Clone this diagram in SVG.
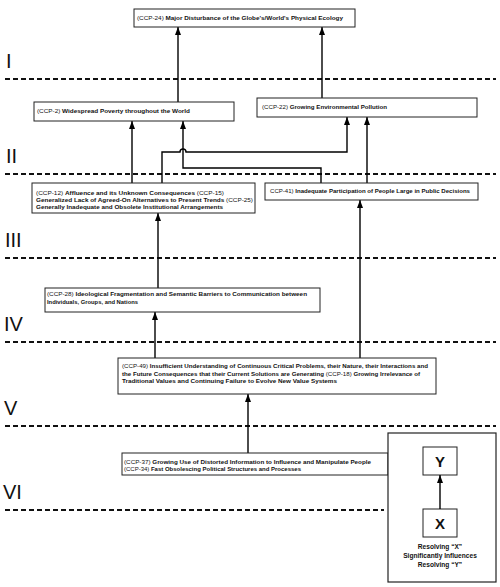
<svg xmlns="http://www.w3.org/2000/svg" width="500" height="587" viewBox="0 0 500 587">
<defs>
<marker id="ah" markerWidth="8" markerHeight="6" refX="8" refY="3" orient="auto" markerUnits="userSpaceOnUse" viewBox="0 0 8 6">
<path d="M0,0 L8,3 L0,6 Z" fill="#000"/>
</marker>
</defs>
<style>
.box{fill:#fff;stroke:#222;stroke-width:1}
.t{font-family:"Liberation Sans",Arial,sans-serif;font-size:6px;fill:#111;font-weight:bold}
.r{font-weight:normal}
.c{fill:none;stroke:#000;stroke-width:1.4}
.dash{stroke:#111;stroke-width:2;stroke-dasharray:5 3}
.num{font-family:"Liberation Sans",Arial,sans-serif;font-size:20px;fill:#111}
.big{font-family:"Liberation Sans",Arial,sans-serif;font-size:15px;font-weight:bold;fill:#111;text-anchor:middle}
.lt{font-family:"Liberation Sans",Arial,sans-serif;font-size:6.6px;font-weight:bold;fill:#111;text-anchor:middle}
</style>
<rect width="500" height="587" fill="#fff"/>
<g id="levels">
<text class="num" x="6" y="68">I</text>
<line class="dash" x1="5" y1="79" x2="496" y2="79"/>
<text class="num" x="6" y="163">II</text>
<line class="dash" x1="5" y1="174" x2="496" y2="174"/>
<text class="num" x="5" y="247">III</text>
<line class="dash" x1="5" y1="258" x2="496" y2="258"/>
<text class="num" x="4" y="331">IV</text>
<line class="dash" x1="5" y1="342" x2="496" y2="342"/>
<text class="num" x="4" y="415">V</text>
<line class="dash" x1="5" y1="426" x2="496" y2="426"/>
<text class="num" x="3" y="499">VI</text>
<line class="dash" x1="5" y1="510" x2="384" y2="510"/>
</g>
<g id="connectors">
<line class="c" x1="178" y1="102" x2="178" y2="27" marker-end="url(#ah)"/>
<line class="c" x1="322" y1="98" x2="322" y2="27" marker-end="url(#ah)"/>
<line class="c" x1="132" y1="183" x2="132" y2="121" marker-end="url(#ah)"/>
<path class="c" d="M162,183 V152 H180 A3,3 0 0 1 186,152 H347 V117" marker-end="url(#ah)"/>
<path class="c" d="M321,183 V168 H183 V121" marker-end="url(#ah)"/>
<line class="c" x1="367" y1="183" x2="367" y2="117" marker-end="url(#ah)"/>
<line class="c" x1="158" y1="288" x2="158" y2="213" marker-end="url(#ah)"/>
<line class="c" x1="155" y1="358" x2="155" y2="312" marker-end="url(#ah)"/>
<line class="c" x1="360" y1="358" x2="360" y2="200" marker-end="url(#ah)"/>
<line class="c" x1="248" y1="453" x2="248" y2="394" marker-end="url(#ah)"/>
</g>
<g id="ccp24">
<rect class="box" x="134" y="9" width="221" height="18"/>
<text class="t" x="137" y="20" textLength="206" lengthAdjust="spacingAndGlyphs"><tspan class="r">(CCP-24) </tspan>Major Disturbance of the Globe's/World's Physical Ecology</text>
</g>
<g id="ccp2">
<rect class="box" x="34" y="102" width="200" height="19"/>
<text class="t" x="37" y="112.5" textLength="153" lengthAdjust="spacingAndGlyphs"><tspan class="r">(CCP-2) </tspan>Widespread Poverty throughout the World</text>
</g>
<g id="ccp22">
<rect class="box" x="257" y="98" width="220" height="19"/>
<text class="t" x="262" y="109" textLength="125" lengthAdjust="spacingAndGlyphs"><tspan class="r">(CCP-22) </tspan>Growing Environmental Pollution</text>
</g>
<g id="ccp12">
<rect class="box" x="32" y="183" width="223" height="30"/>
<text class="t" x="36" y="194.5" textLength="188" lengthAdjust="spacingAndGlyphs"><tspan class="r">(CCP-12) </tspan>Affluence and its Unknown Consequences  <tspan class="r">(CCP-15)</tspan></text>
<text class="t" x="36" y="201.5" textLength="217" lengthAdjust="spacingAndGlyphs">Generalized Lack of Agreed-On Alternatives to Present Trends  <tspan class="r">(CCP-25)</tspan></text>
<text class="t" x="36" y="208.5" textLength="187" lengthAdjust="spacingAndGlyphs">Generally Inadequate and Obsolete Institutional Arrangements</text>
</g>
<g id="ccp41">
<rect class="box" x="265" y="183" width="213" height="17"/>
<text class="t" x="270" y="193" textLength="200" lengthAdjust="spacingAndGlyphs"><tspan class="r">CCP-41) </tspan>Inadequate Participation of People Large in Public Decisions</text>
</g>
<g id="ccp28">
<rect class="box" x="45" y="288" width="275" height="24"/>
<text class="t" x="47" y="295.5" textLength="260" lengthAdjust="spacingAndGlyphs"><tspan class="r">(CCP-28) </tspan>Ideological Fragmentation and Semantic Barriers to Communication between</text>
<text class="t" x="47" y="304" textLength="91" lengthAdjust="spacingAndGlyphs">Individuals, Groups, and Nations</text>
</g>
<g id="ccp49">
<rect class="box" x="118" y="358" width="318" height="36"/>
<text class="t" x="122" y="368" textLength="306" lengthAdjust="spacingAndGlyphs"><tspan class="r">(CCP-49) </tspan>Insufficient Understanding of Continuous Critical Problems, their Nature, their Interactions and</text>
<text class="t" x="122" y="375.5" textLength="298" lengthAdjust="spacingAndGlyphs">the Future Consequences that their Current Solutions are Generating  <tspan class="r">(CCP-18) </tspan>Growing Irrelevance of</text>
<text class="t" x="122" y="383" textLength="215" lengthAdjust="spacingAndGlyphs">Traditional Values and Continuing Failure to Evolve New Value Systems</text>
</g>
<g id="ccp37">
<rect class="box" x="122" y="453" width="266" height="22"/>
<text class="t" x="124" y="463.5" textLength="247" lengthAdjust="spacingAndGlyphs"><tspan class="r">(CCP-37) </tspan>Growing Use of Distorted Information to Influence and Manipulate People</text>
<text class="t" x="124" y="470.5" textLength="177" lengthAdjust="spacingAndGlyphs"><tspan class="r">(CCP-34)  </tspan>Fast Obsolescing Political Structures and Processes</text>
</g>
<g id="legend">
<rect class="box" x="388" y="433" width="108" height="149" style="stroke-width:1.2"/>
<rect class="box" x="423" y="447" width="34" height="28"/>
<text class="big" x="440" y="467">Y</text>
<rect class="box" x="423" y="509" width="34" height="28"/>
<text class="big" x="440" y="529">X</text>
<line class="c" x1="440" y1="509" x2="440" y2="475" marker-end="url(#ah)"/>
<text class="lt" x="440" y="549">Resolving “X”</text>
<text class="lt" x="440" y="558">Significantly Influences</text>
<text class="lt" x="440" y="567">Resolving “Y”</text>
</g>
</svg>
